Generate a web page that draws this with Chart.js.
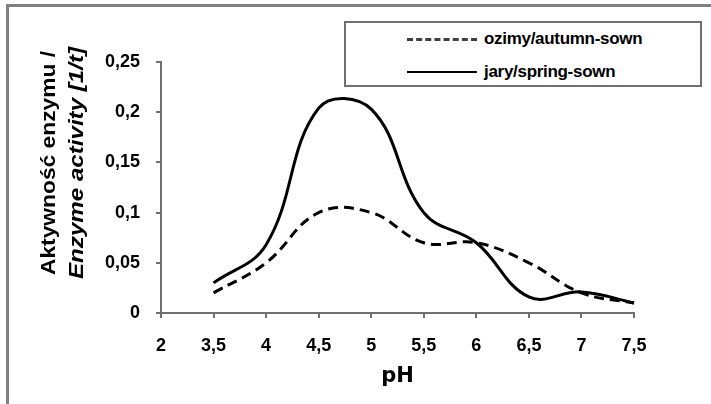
<!DOCTYPE html>
<html>
<head>
<meta charset="utf-8">
<script src="https://cdn.jsdelivr.net/npm/chart.js@4.4.1/dist/chart.umd.min.js"></script>
<style>
    html, body { margin: 0; padding: 0; background: #fff; overflow: hidden; }
    #wrap { position: relative; width: 711px; height: 404px; overflow: hidden; }
    #frame { position: absolute; left: 6px; top: 4px; width: 800px; height: 500px; border: 3px solid #808080; }
    #chart { position: absolute; left: 0; top: 0; }
    #legend { position: absolute; left: 344px; top: 21px; width: 358px; height: 66px; border: 2px solid #707070;
        box-sizing: border-box; background: #fff; }
    .item { position: absolute; left: 61px; height: 20px; }
    .sample { position: absolute; left: 0; width: 70px; top: 9px; }
    .lab { position: absolute; left: 77px; top: 0; white-space: nowrap; font: bold 17px "Liberation Sans", Arial, sans-serif;
        line-height: 20px; letter-spacing: -0.3px; }
</style>
</head>
<body>
<div id="wrap">
    <div id="frame"></div>
    <canvas id="chart" width="711" height="404"></canvas>
    <div id="legend"></div>
</div>
<script>
// #### DATA ####
let phLabels = ['2', '3,5', '4', '4,5', '5', '5,5', '6', '6,5', '7', '7,5'];
let autumnSown = [null, 0.02, 0.05, 0.10, 0.10, 0.07, 0.07, 0.05, 0.02, 0.01];
let springSown = [null, 0.03, 0.068, 0.204, 0.203, 0.10, 0.07, 0.016, 0.021, 0.01];
let seriesNames = ['ozimy/autumn-sown', 'jary/spring-sown'];
let yTitleLines = ['Aktywność enzymu /', 'Enzyme activity [1/t]'];
let xTitle = 'pH';

// #### Y TITLE (two fonts, so drawn by hand) ####
let yTitlePlugin = {
    id: 'yTitle',
    afterDraw(chart) {
        let ctx = chart.ctx;
        let lines = [
            {text: yTitleLines[0], font: 'bold 20px "Liberation Sans", Arial, sans-serif', off: 0, w: 224},
            {text: yTitleLines[1], font: 'italic bold 20px "Liberation Sans", Arial, sans-serif', off: 28, w: 232}
        ];
        ctx.save();
        ctx.translate(49, 163);
        ctx.rotate(-Math.PI / 2);
        ctx.fillStyle = '#000';
        ctx.textAlign = 'center';
        ctx.textBaseline = 'middle';
        for (let l of lines) {
            ctx.font = l.font;
            let k = l.w / ctx.measureText(l.text).width;
            ctx.save();
            ctx.scale(k, 1);
            ctx.fillText(l.text, 0, l.off);
            ctx.restore();
        }
        ctx.restore();
    }
};

let tickFont = {family: '"Liberation Sans", Arial, sans-serif', size: 18, weight: 'bold'};

new Chart(document.getElementById('chart').getContext('2d'), {
    type: 'line',
    data: {
        labels: phLabels,
        datasets: [
            {label: seriesNames[0], data: autumnSown, borderColor: '#000', borderWidth: 3, borderDash: [10, 6],
                pointRadius: 0, tension: 0.4, fill: false},
            {label: seriesNames[1], data: springSown, borderColor: '#000', borderWidth: 3,
                pointRadius: 0, tension: 0.4, fill: false}
        ]
    },
    options: {
        responsive: false,
        animation: false,
        devicePixelRatio: 1,
        layout: {padding: {left: 0, top: 62, right: 77, bottom: 0}},
        plugins: {legend: {display: false}, tooltip: {enabled: false}},
        scales: {
            x: {
                offset: false,
                grid: {drawOnChartArea: false, drawTicks: true, tickLength: 5, color: '#707070', lineWidth: 2},
                border: {color: '#707070', width: 2},
                ticks: {color: '#000', font: tickFont, padding: 17, maxRotation: 0, autoSkip: false},
                title: {display: true, text: xTitle, color: '#000',
                    font: {family: '"DejaVu Sans", sans-serif', size: 21, weight: 'bold'}, padding: {top: 0, bottom: 15}},
                afterFit(scale) { scale.height = 91; }
            },
            y: {
                min: 0,
                max: 0.25,
                grid: {drawOnChartArea: false, drawTicks: true, tickLength: 5, color: '#707070', lineWidth: 2},
                border: {color: '#707070', width: 2},
                ticks: {
                    stepSize: 0.05, color: '#000', font: tickFont, padding: 16,
                    callback: (v) => v === 0 ? '0' : String(parseFloat(v.toFixed(2))).replace('.', ',')
                },
                afterFit(scale) { scale.width = 161; }
            }
        }
    },
    plugins: [yTitlePlugin]
});

// #### LEGEND ####
let legend = document.getElementById('legend');
let legendRows = [
    {name: seriesNames[0], top: 6, sample: 'border-top: 3px dashed #404040;'},
    {name: seriesNames[1], top: 39, sample: 'border-top: 2px solid #000;'}
];
for (let r of legendRows) {
    let item = document.createElement('div');
    item.className = 'item';
    item.style.top = r.top + 'px';
    item.innerHTML = '<div class="sample" style="' + r.sample + '"></div><div class="lab">' + r.name + '</div>';
    legend.appendChild(item);
}
</script>
</body>
</html>
